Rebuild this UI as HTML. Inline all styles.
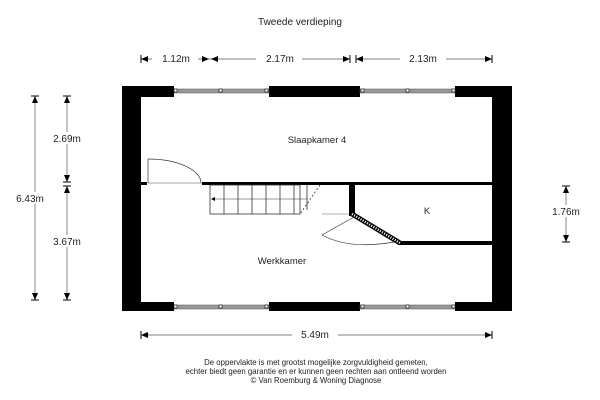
<!DOCTYPE html>
<html><head><style>body{margin:0;background:#fff}svg{display:block}text{font-family:"Liberation Sans",sans-serif;fill:#222}</style></head><body>
<svg width="600" height="400" viewBox="0 0 600 400" xmlns="http://www.w3.org/2000/svg">
<defs>
<marker id="a" markerWidth="8" markerHeight="6" refX="8" refY="3" orient="auto"><path d="M0,0L8,3L0,6z" fill="#000"/></marker>
</defs>
<text x="300" y="25" font-size="10" text-anchor="middle">Tweede verdieping</text>
<!-- top dims -->
<g stroke="#555" stroke-width="0.7" fill="none">
<line x1="141" y1="59" x2="350" y2="59"/><line x1="356" y1="59" x2="492" y2="59"/>
<line x1="141" y1="335" x2="492" y2="335"/>
<line x1="35" y1="96" x2="35" y2="300"/><line x1="67" y1="96" x2="67" y2="182"/><line x1="67" y1="186" x2="67" y2="300"/>
<line x1="566" y1="186" x2="566" y2="242"/>
</g>
<g stroke="#000" stroke-width="1">
<line x1="141" y1="55" x2="141" y2="63"/><line x1="350" y1="55" x2="350" y2="63"/><line x1="356" y1="55" x2="356" y2="63"/><line x1="492" y1="55" x2="492" y2="63"/>
<line x1="141" y1="331" x2="141" y2="339"/><line x1="492" y1="331" x2="492" y2="339"/>
<line x1="31" y1="96" x2="39" y2="96"/><line x1="31" y1="300" x2="39" y2="300"/>
<line x1="63" y1="96" x2="71" y2="96"/><line x1="63" y1="182" x2="71" y2="182"/><line x1="63" y1="186" x2="71" y2="186"/><line x1="63" y1="300" x2="71" y2="300"/>
<line x1="562" y1="186" x2="570" y2="186"/><line x1="562" y1="242" x2="570" y2="242"/>
</g>
<g fill="#000">
<path d="M141,59l7,-3v6z"/><path d="M209,59l-7,-3v6z"/><path d="M211,59l7,-3v6z"/><path d="M350,59l-7,-3v6z"/><path d="M356,59l7,-3v6z"/><path d="M492,59l-7,-3v6z"/>
<path d="M141,335l7,-3v6z"/><path d="M492,335l-7,-3v6z"/>
<path d="M35,96l-3,7h6z"/><path d="M35,300l-3,-7h6z"/>
<path d="M67,96l-3,7h6z"/><path d="M67,182l-3,-7h6z"/><path d="M67,186l-3,7h6z"/><path d="M67,300l-3,-7h6z"/>
<path d="M566,186l-3,7h6z"/><path d="M566,242l-3,-7h6z"/>
</g>
<g font-size="10" text-anchor="middle">
<rect x="152" y="52" width="46" height="12" fill="#fff"/><text x="176" y="62">1.12m</text>
<rect x="256" y="52" width="46" height="12" fill="#fff"/><text x="280" y="62">2.17m</text>
<rect x="400" y="52" width="46" height="12" fill="#fff"/><text x="423" y="62">2.13m</text>
<rect x="292" y="328" width="46" height="12" fill="#fff"/><text x="315" y="338">5.49m</text>
<rect x="10" y="192" width="48" height="12" fill="#fff"/><text x="30" y="202">6.43m</text>
<rect x="45" y="132" width="44" height="12" fill="#fff"/><text x="67" y="142">2.69m</text>
<rect x="45" y="235" width="44" height="12" fill="#fff"/><text x="67" y="245">3.67m</text>
<rect x="544" y="205" width="44" height="12" fill="#fff"/><text x="566" y="215">1.76m</text>
</g>
<!-- walls -->
<g fill="#000">
<rect x="122" y="86" width="19" height="225"/><rect x="492" y="86" width="20" height="225"/>
<rect x="122" y="86" width="52" height="11"/><rect x="269" y="86" width="91" height="11"/><rect x="455" y="86" width="57" height="11"/>
<rect x="122" y="302" width="52" height="9"/><rect x="269" y="302" width="91" height="9"/><rect x="455" y="302" width="57" height="9"/>
<rect x="141" y="182" width="6" height="3"/><rect x="202" y="182" width="290" height="3"/>
<rect x="349" y="183" width="6" height="33"/>
<rect x="398" y="241" width="94" height="4"/>
</g>
<path d="M352,214L400,243" stroke="#000" stroke-width="5"/>
<path d="M352,214L400,243" stroke="#fff" stroke-width="2.5" stroke-dasharray="1 1.5"/>
<!-- windows -->
<g fill="#999" stroke="#555" stroke-width="0.5">
<rect x="174" y="89" width="95" height="4"/><rect x="360" y="89" width="95" height="4"/>
<rect x="174" y="305" width="95" height="4"/><rect x="360" y="305" width="95" height="4"/>
</g>
<g fill="#fff" stroke="#000" stroke-width="0.6">
<rect x="174" y="89" width="3" height="3"/><rect x="219" y="89" width="3" height="3"/><rect x="265" y="89" width="3" height="3"/>
<rect x="361" y="89" width="3" height="3"/><rect x="406" y="89" width="3" height="3"/><rect x="452" y="89" width="3" height="3"/>
<rect x="174" y="305" width="3" height="3"/><rect x="219" y="305" width="3" height="3"/><rect x="265" y="305" width="3" height="3"/>
<rect x="361" y="305" width="3" height="3"/><rect x="406" y="305" width="3" height="3"/><rect x="452" y="305" width="3" height="3"/>
</g>
<!-- door top-left -->
<g fill="none" stroke="#333" stroke-width="0.7">
<line x1="148" y1="159" x2="148" y2="183"/>
<path d="M148,159A53,24 0 0 1 201,183"/>
<line x1="148" y1="183" x2="202" y2="183" stroke="#888"/>
</g>
<!-- stairs -->
<g fill="none" stroke="#333" stroke-width="0.8">
<rect x="210" y="185" width="90" height="29"/>
<line x1="224" y1="185" x2="224" y2="214"/><line x1="238" y1="185" x2="238" y2="214"/><line x1="252" y1="185" x2="252" y2="214"/><line x1="266" y1="185" x2="266" y2="214"/><line x1="280" y1="185" x2="280" y2="214"/><line x1="294" y1="185" x2="294" y2="214"/><line x1="307" y1="185" x2="307" y2="210"/>
<line x1="308" y1="199" x2="214" y2="199" stroke-width="0.6"/>
<line x1="320" y1="185" x2="300" y2="214" stroke-dasharray="2 2"/>
<line x1="322" y1="214" x2="349" y2="214" stroke="#999"/>
</g>
<path d="M211,199l4,-2v4z" fill="#000"/>
<!-- door bottom -->
<g fill="none" stroke="#333" stroke-width="0.7">
<line x1="354" y1="217" x2="322" y2="235"/>
<path d="M322,235Q350,250 394,242"/>
</g>
<g font-size="9.5" text-anchor="middle">
<text x="317" y="143">Slaapkamer 4</text>
<text x="427" y="214">K</text>
<text x="282" y="264">Werkkamer</text>
</g>
<g font-size="7.8" text-anchor="middle">
<text x="316" y="365">De oppervlakte is met grootst mogelijke zorgvuldigheid gemeten,</text>
<text x="316" y="374">echter biedt geen garantie en er kunnen geen rechten aan ontleend worden</text>
<text x="316" y="383">© Van Roemburg &amp; Woning Diagnose</text>
</g>
</svg>
</body></html>
